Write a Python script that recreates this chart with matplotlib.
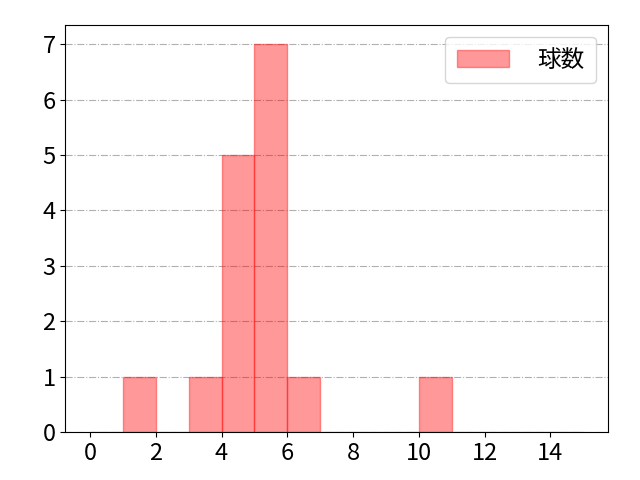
import matplotlib
matplotlib.use("Agg")
import matplotlib.pyplot as plt
import numpy as np

plt.rcParams['font.family'] = ['Noto Sans CJK JP', 'DejaVu Sans']

bin_edges = list(range(0, 16))
bin_lefts = list(range(0, 15))
counts = [0, 1, 0, 1, 5, 7, 1, 0, 0, 0, 1, 0, 0, 0, 0]
label = '球数'

fig, ax = plt.subplots(figsize=(6.4, 4.8), dpi=100)
fig.subplots_adjust(left=0.102, right=0.95, top=0.948, bottom=0.1)
ax.set_axisbelow(True)
ax.grid(axis='y', linestyle='-.', color='#b0b0b0', linewidth=0.8)
ax.hist(bin_lefts, bins=bin_edges, weights=counts, color='red', alpha=0.4,
        edgecolor='red', linewidth=1, label=label)
ax.set_xticks(range(0, 16, 2))
ax.tick_params(labelsize=17)
ax.legend(fontsize=17, handlelength=2.2, handletextpad=1.2, loc='upper right',
          borderpad=0.5)
fig.savefig('out.png')
